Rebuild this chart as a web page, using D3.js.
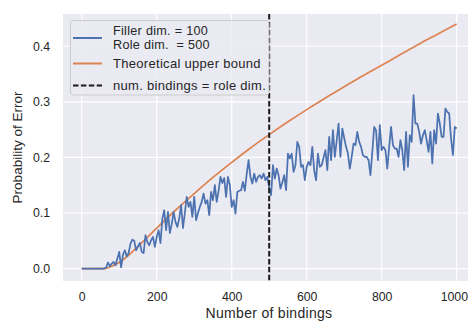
<!DOCTYPE html>
<html>
<head>
<meta charset="utf-8">
<script src="https://cdn.jsdelivr.net/npm/d3@7"></script>
<style>
  body { margin: 0; background: #fff; }
  svg { display: block; font-family: "Liberation Sans", Arial, sans-serif; }
</style>
</head>
<body>
<svg id="chart" width="468" height="322"></svg>
<script>
// measured simulation, step of 5 bindings
const bindings = d3.range(0, 1001, 5);
const errorRate = [
  0, 0, 0, 0, 0, 0, 0, 0, 0, 0, 0, 0, 0, 0.002, 0.011, 0.004, 0.009, 0.012, 0.006, 0.018,
  0.030, 0.002, 0.025, 0.033, 0.022, 0.028, 0.045, 0.052, 0.050, 0.033, 0.040, 0.046, 0.030, 0.028, 0.060, 0.048, 0.042, 0.051, 0.057, 0.039,
  0.057, 0.069, 0.046, 0.090, 0.105, 0.069, 0.102, 0.064, 0.080, 0.102, 0.084, 0.075, 0.090, 0.114, 0.073, 0.100, 0.129, 0.111, 0.120, 0.093,
  0.129, 0.087, 0.100, 0.111, 0.120, 0.135, 0.117, 0.123, 0.096, 0.138, 0.123, 0.150, 0.120, 0.140, 0.165, 0.154, 0.163, 0.129, 0.165, 0.150,
  0.111, 0.123, 0.099, 0.138, 0.140, 0.141, 0.156, 0.140, 0.170, 0.195, 0.165, 0.153, 0.171, 0.156, 0.165, 0.168, 0.162, 0.171, 0.159, 0.165,
  0.145, 0.132, 0.186, 0.162, 0.180, 0.168, 0.144, 0.155, 0.168, 0.141, 0.207, 0.198, 0.207, 0.174, 0.186, 0.228, 0.219, 0.183, 0.186, 0.159,
  0.183, 0.192, 0.186, 0.219, 0.177, 0.159, 0.207, 0.183, 0.186, 0.200, 0.213, 0.177, 0.237, 0.195, 0.249, 0.201, 0.230, 0.261, 0.201, 0.252,
  0.235, 0.219, 0.207, 0.180, 0.201, 0.225, 0.222, 0.246, 0.228, 0.219, 0.204, 0.201, 0.201, 0.195, 0.168, 0.210, 0.255, 0.249, 0.195, 0.258,
  0.213, 0.219, 0.213, 0.180, 0.219, 0.255, 0.222, 0.216, 0.216, 0.201, 0.231, 0.213, 0.177, 0.246, 0.183, 0.240, 0.228, 0.312, 0.261, 0.261,
  0.246, 0.225, 0.240, 0.249, 0.231, 0.210, 0.246, 0.189, 0.249, 0.225, 0.279, 0.261, 0.237, 0.237, 0.288, 0.282, 0.279, 0.234, 0.204, 0.255,
  0.252
];

// theoretical upper bound
const boundX = [0, 50, 60, 75, 100, 125, 150, 175, 200, 250, 300, 350, 400, 450, 500, 550, 600, 650, 700, 750, 800, 850, 900, 950, 1000];
const boundY = [0, 0, 0, 0.003, 0.011, 0.024, 0.040, 0.056, 0.073, 0.105, 0.135, 0.164, 0.191, 0.217, 0.241, 0.264, 0.286, 0.307, 0.327, 0.347, 0.366, 0.385, 0.404, 0.422, 0.440];

const roleDim = 500;
const xTicks = [0, 200, 400, 600, 800, 1000];
const yTicks = [0.0, 0.1, 0.2, 0.3, 0.4];
const legendLabels = [["Filler dim. = 100", "Role dim.  = 500"], ["Theoretical upper bound"], ["num. bindings = role dim."]];

const svg = d3.select("#chart");
const W = 468;
const plotLeft = 63, plotRight = 475.4, plotTop = 14, plotBottom = 281;

const x = d3.scaleLinear().domain([-50, 1050]).range([plotLeft, plotRight]);
const y = d3.scaleLinear().domain([-0.0223, 0.458]).range([plotBottom, plotTop]);

svg.append("defs").append("clipPath").attr("id", "plotclip")
  .append("rect").attr("x", plotLeft).attr("y", plotTop)
  .attr("width", plotRight - plotLeft).attr("height", plotBottom - plotTop);

// axes background
svg.append("rect")
  .attr("x", plotLeft).attr("y", plotTop)
  .attr("width", plotRight - plotLeft).attr("height", plotBottom - plotTop)
  .attr("fill", "#eaeaf2");

// grid
const grid = svg.append("g").attr("stroke", "#fff").attr("stroke-width", 1.1);
grid.selectAll("line.gx").data(xTicks).enter().append("line")
  .attr("x1", d => x(d)).attr("x2", d => x(d))
  .attr("y1", plotTop).attr("y2", plotBottom);
grid.selectAll("line.gy").data(yTicks).enter().append("line")
  .attr("y1", d => y(d)).attr("y2", d => y(d))
  .attr("x1", plotLeft).attr("x2", plotRight);

// tick labels
const xAxis = d3.axisBottom(x).tickValues(xTicks).tickSize(0).tickPadding(0).tickFormat(d3.format("d"));
const gx = svg.append("g").attr("transform", `translate(0,${plotBottom + 11})`).call(xAxis);
gx.select(".domain").remove();
gx.selectAll("text").attr("font-size", 12.3).attr("fill", "#262626");
gx.attr("font-family", null).attr("font-size", null);
// keep the last label inside the window
gx.selectAll(".tick text").each(function(d) {
  const w = this.getComputedTextLength();
  const over = x(d) + w / 2 - (W - 0.5);
  if (over > 0) d3.select(this).attr("dx", -over);
});

const yAxis = d3.axisLeft(y).tickValues(yTicks).tickSize(0).tickPadding(0).tickFormat(d3.format(".1f"));
const gy = svg.append("g").attr("transform", `translate(${plotLeft - 13},0)`).call(yAxis);
gy.select(".domain").remove();
gy.selectAll("text").attr("font-size", 12.3).attr("fill", "#262626");
gy.attr("font-family", null).attr("font-size", null);

// axis labels
svg.append("text")
  .attr("x", (plotLeft + 475) / 2).attr("y", 318)
  .attr("text-anchor", "middle").attr("font-size", 14).attr("fill", "#262626")
  .attr("letter-spacing", 0.3)
  .text("Number of bindings");
svg.append("text")
  .attr("transform", `translate(22,${(plotTop + plotBottom) / 2}) rotate(-90)`)
  .attr("text-anchor", "middle").attr("font-size", 13.5).attr("fill", "#262626")
  .text("Probability of Error");

const plot = svg.append("g").attr("clip-path", "url(#plotclip)");

// theoretical bound
plot.append("path")
  .datum(boundX.map((v, i) => [v, boundY[i]]))
  .attr("fill", "none").attr("stroke", "#dd8452").attr("stroke-width", 1.75)
  .attr("d", d3.line().x(d => x(d[0])).y(d => y(d[1])).curve(d3.curveMonotoneX));

// measured
plot.append("path")
  .datum(bindings.map((v, i) => [v, errorRate[i]]))
  .attr("fill", "none").attr("stroke", "#4c72b0").attr("stroke-width", 1.75)
  .attr("stroke-linejoin", "round")
  .attr("d", d3.line().x(d => x(d[0])).y(d => y(d[1])));

// role dim marker
plot.append("line")
  .attr("x1", x(roleDim)).attr("x2", x(roleDim))
  .attr("y1", plotTop).attr("y2", plotBottom)
  .attr("stroke", "#1a1a1a").attr("stroke-width", 2)
  .attr("stroke-dasharray", "5.5,2.4");

// legend
const legend = svg.append("g");
legend.append("rect")
  .attr("x", 70.5).attr("y", 20.5).attr("width", 198.5).attr("height", 74.5)
  .attr("rx", 3)
  .attr("fill", "#eaeaf2").attr("fill-opacity", 0.8)
  .attr("stroke", "#cccccc").attr("stroke-width", 1);

const handleY = [38, 63.5, 85.5];
const handleStyle = [
  { color: "#4c72b0", dash: null },
  { color: "#dd8452", dash: null },
  { color: "#1a1a1a", dash: "5.5,2.4" }
];
legendLabels.forEach((lines, i) => {
  legend.append("line")
    .attr("x1", 73).attr("x2", 102)
    .attr("y1", handleY[i]).attr("y2", handleY[i])
    .attr("stroke", handleStyle[i].color).attr("stroke-width", 2)
    .attr("stroke-dasharray", handleStyle[i].dash);
  const fs = lines.length > 1 ? 12.6 : 13;
  lines.forEach((line, j) => {
    legend.append("text")
      .attr("x", 113)
      .attr("y", handleY[i] + 4.3 - (lines.length - 1) * 7.6 + j * 14)
      .attr("font-size", fs).attr("fill", "#262626")
      .attr("letter-spacing", 0.3)
      .style("white-space", "pre")
      .text(line);
  });
});
</script>
</body>
</html>
